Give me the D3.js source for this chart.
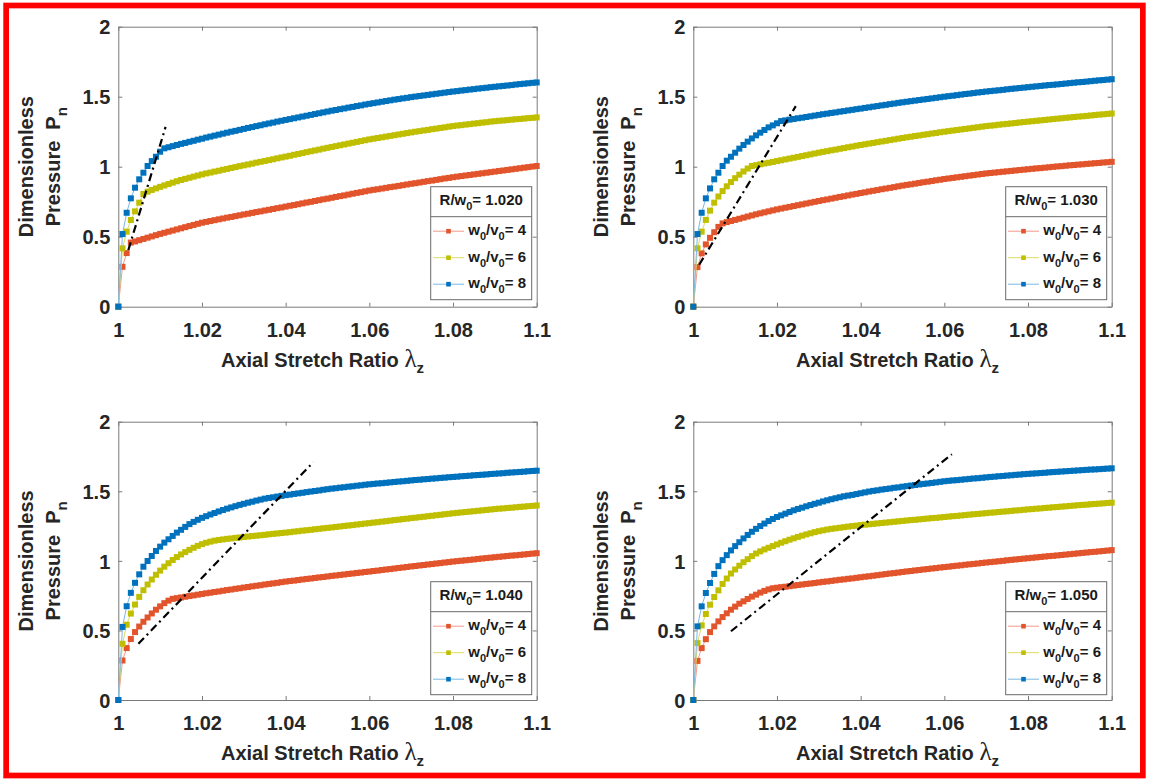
<!DOCTYPE html>
<html>
<head>
<meta charset="utf-8">
<script src="https://cdn.jsdelivr.net/npm/d3@7"></script>
<style>
  html, body { margin: 0; padding: 0; background: #fff; }
  svg { display: block; }
</style>
</head>
<body>
<svg id="fig" width="1149" height="781"></svg>
<script>
// Axial stretch ratio samples (shared by every curve)
const stretch = [
  1.000, 1.001, 1.002, 1.003, 1.004, 1.005, 1.006, 1.007, 1.008, 1.009,
  1.010, 1.011, 1.012, 1.013, 1.014, 1.015, 1.016, 1.017, 1.018, 1.019,
  1.020, 1.021, 1.022, 1.023, 1.024, 1.025, 1.026, 1.027, 1.028, 1.029,
  1.030, 1.031, 1.032, 1.033, 1.034, 1.035, 1.036, 1.037, 1.038, 1.039,
  1.040, 1.041, 1.042, 1.043, 1.044, 1.045, 1.046, 1.047, 1.048, 1.049,
  1.050, 1.051, 1.052, 1.053, 1.054, 1.055, 1.056, 1.057, 1.058, 1.059,
  1.060, 1.061, 1.062, 1.063, 1.064, 1.065, 1.066, 1.067, 1.068, 1.069,
  1.070, 1.071, 1.072, 1.073, 1.074, 1.075, 1.076, 1.077, 1.078, 1.079,
  1.080, 1.081, 1.082, 1.083, 1.084, 1.085, 1.086, 1.087, 1.088, 1.089,
  1.090, 1.091, 1.092, 1.093, 1.094, 1.095, 1.096, 1.097, 1.098, 1.099,
  1.100
];

const xTicks = [1, 1.02, 1.04, 1.06, 1.08, 1.1];
const xTickLabels = ["1", "1.02", "1.04", "1.06", "1.08", "1.1"];
const yTicks = [0, 0.5, 1, 1.5, 2];
const yTickLabels = ["0", "0.5", "1", "1.5", "2"];

const ratioLabels = ["1.020", "1.030", "1.040", "1.050"];   // R/w0
const slenderLabels = ["4", "6", "8"];                       // w0/v0

// Dimensionless pressure, R/w0 = 1.020
const p1020_w4 = [
  0, 0.285, 0.383, 0.458, 0.466, 0.475, 0.484, 0.493, 0.502, 0.511,
  0.520, 0.528, 0.536, 0.544, 0.552, 0.560, 0.568, 0.576, 0.584, 0.592,
  0.600, 0.606, 0.612, 0.618, 0.624, 0.630, 0.636, 0.641, 0.647, 0.653,
  0.659, 0.664, 0.670, 0.676, 0.681, 0.687, 0.692, 0.698, 0.704, 0.709,
  0.715, 0.721, 0.726, 0.732, 0.738, 0.744, 0.749, 0.755, 0.761, 0.767,
  0.772, 0.778, 0.784, 0.790, 0.795, 0.801, 0.807, 0.813, 0.818, 0.824,
  0.830, 0.835, 0.839, 0.844, 0.849, 0.854, 0.858, 0.863, 0.868, 0.873,
  0.878, 0.882, 0.887, 0.892, 0.897, 0.901, 0.906, 0.911, 0.916, 0.920,
  0.925, 0.929, 0.933, 0.937, 0.941, 0.945, 0.949, 0.953, 0.957, 0.961,
  0.965, 0.969, 0.973, 0.977, 0.981, 0.985, 0.989, 0.993, 0.997, 1.001,
  1.005
];
const p1020_w6 = [
  0, 0.417, 0.536, 0.619, 0.681, 0.743, 0.805, 0.822, 0.834, 0.845,
  0.856, 0.866, 0.876, 0.886, 0.896, 0.905, 0.913, 0.921, 0.929, 0.937,
  0.945, 0.952, 0.958, 0.965, 0.971, 0.978, 0.984, 0.991, 0.997, 1.004,
  1.010, 1.016, 1.022, 1.029, 1.035, 1.041, 1.047, 1.053, 1.060, 1.066,
  1.072, 1.078, 1.085, 1.091, 1.097, 1.104, 1.110, 1.116, 1.122, 1.129,
  1.135, 1.141, 1.147, 1.153, 1.159, 1.165, 1.171, 1.177, 1.183, 1.189,
  1.195, 1.200, 1.205, 1.210, 1.215, 1.220, 1.225, 1.230, 1.235, 1.240,
  1.245, 1.250, 1.254, 1.259, 1.263, 1.268, 1.272, 1.277, 1.281, 1.286,
  1.290, 1.294, 1.297, 1.301, 1.304, 1.308, 1.311, 1.315, 1.318, 1.322,
  1.325, 1.328, 1.330, 1.333, 1.336, 1.339, 1.341, 1.344, 1.347, 1.349,
  1.352
];
const p1020_w8 = [
  0, 0.519, 0.671, 0.774, 0.850, 0.910, 0.957, 1.005, 1.040, 1.071,
  1.107, 1.131, 1.139, 1.147, 1.155, 1.163, 1.170, 1.178, 1.185, 1.193,
  1.200, 1.208, 1.215, 1.222, 1.229, 1.236, 1.243, 1.250, 1.256, 1.263,
  1.270, 1.277, 1.283, 1.290, 1.296, 1.303, 1.309, 1.315, 1.322, 1.328,
  1.334, 1.340, 1.346, 1.352, 1.358, 1.364, 1.370, 1.376, 1.382, 1.388,
  1.394, 1.400, 1.405, 1.411, 1.416, 1.422, 1.427, 1.433, 1.438, 1.444,
  1.449, 1.454, 1.459, 1.464, 1.469, 1.474, 1.479, 1.483, 1.488, 1.492,
  1.497, 1.501, 1.505, 1.509, 1.513, 1.517, 1.521, 1.525, 1.529, 1.533,
  1.537, 1.540, 1.544, 1.547, 1.551, 1.554, 1.558, 1.561, 1.564, 1.568,
  1.571, 1.574, 1.577, 1.580, 1.583, 1.587, 1.590, 1.593, 1.596, 1.599,
  1.602
];

// Dimensionless pressure, R/w0 = 1.030
const p1030_w4 = [
  0, 0.283, 0.381, 0.445, 0.492, 0.532, 0.570, 0.595, 0.604, 0.612,
  0.620, 0.628, 0.636, 0.644, 0.652, 0.660, 0.667, 0.674, 0.681, 0.688,
  0.695, 0.701, 0.707, 0.713, 0.719, 0.725, 0.731, 0.737, 0.743, 0.749,
  0.755, 0.761, 0.766, 0.772, 0.778, 0.784, 0.789, 0.795, 0.801, 0.806,
  0.812, 0.817, 0.823, 0.828, 0.833, 0.839, 0.844, 0.849, 0.854, 0.860,
  0.865, 0.870, 0.874, 0.879, 0.884, 0.889, 0.893, 0.898, 0.903, 0.907,
  0.912, 0.916, 0.920, 0.924, 0.928, 0.932, 0.936, 0.940, 0.944, 0.948,
  0.952, 0.955, 0.958, 0.961, 0.964, 0.967, 0.970, 0.973, 0.976, 0.979,
  0.982, 0.985, 0.988, 0.990, 0.993, 0.996, 0.999, 1.002, 1.004, 1.007,
  1.010, 1.012, 1.015, 1.017, 1.020, 1.022, 1.025, 1.027, 1.030, 1.032,
  1.035
];
const p1030_w6 = [
  0, 0.417, 0.536, 0.620, 0.686, 0.743, 0.787, 0.826, 0.860, 0.890,
  0.918, 0.943, 0.966, 0.987, 1.005, 1.011, 1.017, 1.023, 1.028, 1.034,
  1.040, 1.046, 1.052, 1.058, 1.064, 1.070, 1.076, 1.082, 1.088, 1.094,
  1.100, 1.106, 1.111, 1.117, 1.122, 1.128, 1.133, 1.139, 1.144, 1.150,
  1.155, 1.160, 1.165, 1.170, 1.175, 1.180, 1.185, 1.190, 1.195, 1.200,
  1.205, 1.210, 1.214, 1.219, 1.223, 1.228, 1.232, 1.237, 1.241, 1.246,
  1.250, 1.254, 1.258, 1.262, 1.266, 1.270, 1.274, 1.278, 1.282, 1.286,
  1.290, 1.293, 1.296, 1.300, 1.303, 1.306, 1.309, 1.312, 1.316, 1.319,
  1.322, 1.325, 1.328, 1.331, 1.334, 1.337, 1.340, 1.343, 1.346, 1.349,
  1.352, 1.355, 1.358, 1.360, 1.363, 1.366, 1.369, 1.372, 1.374, 1.377,
  1.380
];
const p1030_w8 = [
  0, 0.519, 0.671, 0.774, 0.845, 0.910, 0.957, 1.005, 1.043, 1.071,
  1.100, 1.129, 1.155, 1.179, 1.202, 1.224, 1.243, 1.262, 1.281, 1.295,
  1.310, 1.326, 1.331, 1.336, 1.341, 1.346, 1.350, 1.355, 1.360, 1.365,
  1.370, 1.375, 1.379, 1.384, 1.388, 1.393, 1.397, 1.402, 1.406, 1.411,
  1.415, 1.420, 1.424, 1.429, 1.433, 1.438, 1.442, 1.447, 1.451, 1.456,
  1.460, 1.464, 1.468, 1.472, 1.476, 1.480, 1.484, 1.488, 1.492, 1.496,
  1.500, 1.504, 1.507, 1.511, 1.515, 1.519, 1.522, 1.526, 1.530, 1.533,
  1.537, 1.540, 1.543, 1.546, 1.549, 1.553, 1.556, 1.559, 1.562, 1.565,
  1.568, 1.571, 1.574, 1.577, 1.580, 1.583, 1.585, 1.588, 1.591, 1.594,
  1.597, 1.600, 1.603, 1.605, 1.608, 1.611, 1.614, 1.617, 1.619, 1.622,
  1.625
];

// Dimensionless pressure, R/w0 = 1.040
const p1040_w4 = [
  0, 0.284, 0.373, 0.438, 0.488, 0.528, 0.562, 0.593, 0.622, 0.649,
  0.673, 0.696, 0.714, 0.727, 0.732, 0.737, 0.742, 0.747, 0.752, 0.757,
  0.762, 0.767, 0.771, 0.776, 0.780, 0.785, 0.790, 0.794, 0.799, 0.803,
  0.808, 0.812, 0.817, 0.821, 0.825, 0.830, 0.834, 0.838, 0.842, 0.847,
  0.851, 0.855, 0.858, 0.862, 0.866, 0.870, 0.873, 0.877, 0.881, 0.884,
  0.888, 0.892, 0.895, 0.899, 0.902, 0.906, 0.909, 0.913, 0.916, 0.920,
  0.923, 0.927, 0.930, 0.934, 0.938, 0.941, 0.945, 0.949, 0.952, 0.956,
  0.960, 0.963, 0.967, 0.970, 0.974, 0.977, 0.981, 0.984, 0.988, 0.991,
  0.995, 0.998, 1.001, 1.004, 1.007, 1.010, 1.014, 1.017, 1.020, 1.023,
  1.026, 1.029, 1.032, 1.035, 1.038, 1.040, 1.043, 1.046, 1.049, 1.052,
  1.055
];
const p1040_w6 = [
  0, 0.404, 0.541, 0.621, 0.686, 0.741, 0.789, 0.830, 0.866, 0.900,
  0.930, 0.958, 0.983, 1.006, 1.027, 1.046, 1.063, 1.079, 1.094, 1.108,
  1.120, 1.130, 1.138, 1.145, 1.150, 1.154, 1.158, 1.161, 1.165, 1.168,
  1.172, 1.175, 1.178, 1.181, 1.184, 1.187, 1.191, 1.194, 1.197, 1.200,
  1.203, 1.206, 1.210, 1.213, 1.217, 1.220, 1.223, 1.227, 1.230, 1.234,
  1.237, 1.240, 1.244, 1.247, 1.251, 1.254, 1.257, 1.261, 1.264, 1.268,
  1.271, 1.275, 1.278, 1.282, 1.285, 1.289, 1.293, 1.296, 1.300, 1.303,
  1.307, 1.310, 1.314, 1.317, 1.321, 1.324, 1.328, 1.331, 1.335, 1.338,
  1.342, 1.345, 1.348, 1.351, 1.354, 1.357, 1.360, 1.363, 1.366, 1.369,
  1.372, 1.375, 1.377, 1.380, 1.382, 1.385, 1.388, 1.390, 1.393, 1.395,
  1.398
];
const p1040_w8 = [
  0, 0.525, 0.674, 0.770, 0.842, 0.903, 0.958, 0.999, 1.035, 1.071,
  1.102, 1.131, 1.155, 1.179, 1.203, 1.223, 1.244, 1.264, 1.280, 1.295,
  1.309, 1.321, 1.333, 1.344, 1.355, 1.365, 1.375, 1.384, 1.393, 1.402,
  1.410, 1.418, 1.425, 1.433, 1.440, 1.447, 1.452, 1.457, 1.462, 1.467,
  1.472, 1.476, 1.481, 1.485, 1.489, 1.494, 1.498, 1.502, 1.506, 1.511,
  1.515, 1.519, 1.522, 1.526, 1.529, 1.533, 1.536, 1.540, 1.543, 1.547,
  1.550, 1.553, 1.556, 1.558, 1.561, 1.564, 1.567, 1.570, 1.572, 1.575,
  1.578, 1.581, 1.583, 1.586, 1.588, 1.591, 1.593, 1.596, 1.598, 1.601,
  1.603, 1.605, 1.608, 1.610, 1.612, 1.615, 1.617, 1.619, 1.621, 1.624,
  1.626, 1.628, 1.630, 1.633, 1.635, 1.637, 1.639, 1.641, 1.644, 1.646,
  1.648
];

// Dimensionless pressure, R/w0 = 1.050
const p1050_w4 = [
  0, 0.281, 0.373, 0.437, 0.488, 0.529, 0.565, 0.596, 0.623, 0.649,
  0.671, 0.692, 0.709, 0.726, 0.743, 0.757, 0.772, 0.784, 0.795, 0.803,
  0.807, 0.811, 0.814, 0.818, 0.822, 0.826, 0.830, 0.834, 0.837, 0.841,
  0.845, 0.849, 0.852, 0.856, 0.860, 0.864, 0.867, 0.871, 0.874, 0.878,
  0.882, 0.886, 0.889, 0.893, 0.897, 0.901, 0.905, 0.909, 0.912, 0.916,
  0.920, 0.924, 0.927, 0.931, 0.934, 0.938, 0.941, 0.945, 0.948, 0.952,
  0.955, 0.958, 0.962, 0.965, 0.968, 0.972, 0.975, 0.978, 0.981, 0.985,
  0.988, 0.991, 0.994, 0.997, 1.000, 1.004, 1.007, 1.010, 1.013, 1.016,
  1.019, 1.022, 1.025, 1.028, 1.031, 1.034, 1.036, 1.039, 1.042, 1.045,
  1.048, 1.051, 1.054, 1.057, 1.060, 1.063, 1.065, 1.068, 1.071, 1.074,
  1.077
];
const p1050_w6 = [
  0, 0.409, 0.536, 0.618, 0.685, 0.740, 0.788, 0.834, 0.873, 0.909,
  0.938, 0.965, 0.990, 1.012, 1.034, 1.053, 1.068, 1.082, 1.094, 1.106,
  1.118, 1.130, 1.141, 1.152, 1.162, 1.172, 1.181, 1.190, 1.198, 1.206,
  1.213, 1.219, 1.225, 1.230, 1.234, 1.238, 1.242, 1.246, 1.250, 1.253,
  1.257, 1.260, 1.263, 1.266, 1.269, 1.272, 1.275, 1.278, 1.281, 1.284,
  1.287, 1.290, 1.293, 1.295, 1.298, 1.301, 1.304, 1.307, 1.309, 1.312,
  1.315, 1.318, 1.321, 1.323, 1.326, 1.329, 1.332, 1.335, 1.337, 1.340,
  1.343, 1.346, 1.348, 1.351, 1.354, 1.356, 1.359, 1.362, 1.364, 1.367,
  1.370, 1.372, 1.375, 1.377, 1.380, 1.382, 1.385, 1.387, 1.390, 1.392,
  1.395, 1.397, 1.400, 1.402, 1.404, 1.407, 1.409, 1.411, 1.413, 1.416,
  1.418
];
const p1050_w8 = [
  0, 0.529, 0.673, 0.769, 0.841, 0.906, 0.962, 1.005, 1.041, 1.075,
  1.106, 1.134, 1.161, 1.186, 1.209, 1.230, 1.250, 1.268, 1.286, 1.301,
  1.315, 1.327, 1.339, 1.351, 1.363, 1.373, 1.382, 1.392, 1.401, 1.410,
  1.418, 1.427, 1.435, 1.443, 1.450, 1.457, 1.464, 1.469, 1.474, 1.480,
  1.486, 1.492, 1.498, 1.503, 1.507, 1.512, 1.516, 1.520, 1.525, 1.528,
  1.533, 1.537, 1.541, 1.545, 1.549, 1.553, 1.556, 1.560, 1.564, 1.568,
  1.572, 1.575, 1.578, 1.580, 1.583, 1.586, 1.589, 1.592, 1.594, 1.597,
  1.600, 1.603, 1.605, 1.608, 1.610, 1.613, 1.615, 1.618, 1.620, 1.623,
  1.625, 1.627, 1.629, 1.631, 1.633, 1.636, 1.638, 1.640, 1.642, 1.644,
  1.646, 1.648, 1.650, 1.652, 1.654, 1.656, 1.657, 1.659, 1.661, 1.663,
  1.665
];

// Dash-dot guide through the transition points (end points: stretch, pressure)
const guide1020X = [1.0024, 1.0113], guide1020Y = [0.405, 1.284];
const guide1030X = [1.0014, 1.0245], guide1030Y = [0.300, 1.433];
const guide1040X = [1.0048, 1.0466], guide1040Y = [0.404, 1.709];
const guide1050X = [1.0090, 1.0618], guide1050Y = [0.494, 1.766];

// ---------------------------------------------------------------------------
const panels = [
  { ratio: ratioLabels[0], series: [p1020_w4, p1020_w6, p1020_w8], gx: guide1020X, gy: guide1020Y },
  { ratio: ratioLabels[1], series: [p1030_w4, p1030_w6, p1030_w8], gx: guide1030X, gy: guide1030Y },
  { ratio: ratioLabels[2], series: [p1040_w4, p1040_w6, p1040_w8], gx: guide1040X, gy: guide1040Y },
  { ratio: ratioLabels[3], series: [p1050_w4, p1050_w6, p1050_w8], gx: guide1050X, gy: guide1050Y }
];

const markerColors = ["#e2542c", "#bfbf00", "#0072bd"];
const lineColors   = ["#f2998a", "#dcdc62", "#7ab8e6"];

const colLeft = [118.3, 693.3];
const rowTop = [26.7, 421.7];
const rowBottom = [306.7, 700];
const plotW = 418.4;

const SANS = "'Liberation Sans', Arial, Helvetica, sans-serif";
const TEXT = "#262626";
const AXIS = "#7a7a7a";

const svg = d3.select("#fig");
svg.append("rect").attr("x", 0).attr("y", 0).attr("width", 1149).attr("height", 781).attr("fill", "#fff");

panels.forEach((p, k) => {
  const L = colLeft[k % 2];
  const T = rowTop[Math.floor(k / 2)];
  const B = rowBottom[Math.floor(k / 2)];
  const R = L + plotW;

  const x = d3.scaleLinear().domain([1, 1.1]).range([L, R]);
  const y = d3.scaleLinear().domain([0, 2]).range([B, T]);

  const g = svg.append("g");

  // axes box with inward ticks
  const styleAxis = sel => {
    sel.select(".domain").attr("stroke", AXIS).attr("stroke-width", 1);
    sel.selectAll(".tick line").attr("stroke", AXIS).attr("stroke-width", 1);
  };

  const bottom = g.append("g").attr("transform", `translate(0,${B})`)
    .call(d3.axisBottom(x).tickValues(xTicks).tickFormat((d, i) => xTickLabels[i])
      .tickSizeInner(-4).tickSizeOuter(0));
  styleAxis(bottom);
  bottom.selectAll(".tick text")
    .attr("y", 30).attr("dy", null)
    .attr("font-family", SANS).attr("font-weight", "bold").attr("font-size", 20)
    .attr("fill", TEXT);

  const top = g.append("g").attr("transform", `translate(0,${T})`)
    .call(d3.axisTop(x).tickValues(xTicks).tickFormat(() => "").tickSizeInner(-4).tickSizeOuter(0));
  styleAxis(top);

  const left = g.append("g").attr("transform", `translate(${L},0)`)
    .call(d3.axisLeft(y).tickValues(yTicks).tickFormat((d, i) => yTickLabels[i])
      .tickSizeInner(-4).tickSizeOuter(0));
  styleAxis(left);
  left.selectAll(".tick text")
    .attr("x", -8).attr("dy", "0.36em")
    .attr("font-family", SANS).attr("font-weight", "bold").attr("font-size", 20)
    .attr("fill", TEXT);

  const right = g.append("g").attr("transform", `translate(${R},0)`)
    .call(d3.axisRight(y).tickValues(yTicks).tickFormat(() => "").tickSizeInner(-4).tickSizeOuter(0));
  styleAxis(right);

  // curves: thin light connecting line plus square markers
  const line = d3.line().x((d, i) => x(stretch[i])).y(d => y(d));
  const ms = 6;
  p.series.forEach((vals, s) => {
    g.append("path").datum(vals)
      .attr("d", line)
      .attr("fill", "none")
      .attr("stroke", lineColors[s])
      .attr("stroke-width", 1);
    g.append("g").selectAll("rect").data(vals).join("rect")
      .attr("x", (d, i) => x(stretch[i]) - ms / 2)
      .attr("y", d => y(d) - ms / 2)
      .attr("width", ms).attr("height", ms)
      .attr("fill", markerColors[s]);
  });

  // dash-dot transition guide
  const guide = d3.line().x((d, i) => x(p.gx[i])).y(d => y(d));
  g.append("path").datum(p.gy)
    .attr("d", guide)
    .attr("fill", "none")
    .attr("stroke", "#000")
    .attr("stroke-width", 2.2)
    .attr("stroke-dasharray", "8,4,2,4");

  // legend
  const lg = g.append("g").attr("transform", `translate(${L + 312.4},${T + 160})`);
  lg.append("rect").attr("x", 0).attr("y", 0).attr("width", 101).attr("height", 113)
    .attr("fill", "#fff").attr("stroke", "#6a6a6a").attr("stroke-width", 1);
  lg.append("line").attr("x1", 0).attr("x2", 101).attr("y1", 30).attr("y2", 30)
    .attr("stroke", "#6a6a6a").attr("stroke-width", 1);

  const title = lg.append("text")
    .attr("x", 50.5).attr("y", 18.5)
    .attr("text-anchor", "middle")
    .attr("font-family", SANS).attr("font-weight", "bold").attr("font-size", 15)
    .attr("fill", "#1a1a1a");
  title.append("tspan").text("R/w");
  title.append("tspan").attr("font-size", 11).attr("dy", 5).text("0");
  title.append("tspan").attr("dy", -5).text("= " + p.ratio);

  const rowsY = [44.5, 71, 97.5];
  slenderLabels.forEach((lab, s) => {
    const ry = rowsY[s];
    lg.append("line").attr("x1", 2.3).attr("x2", 33.3).attr("y1", ry).attr("y2", ry)
      .attr("stroke", lineColors[s]).attr("stroke-width", 1);
    lg.append("rect").attr("x", 17.8 - 2.3).attr("y", ry - 2.3).attr("width", 4.6).attr("height", 4.6)
      .attr("fill", markerColors[s]);
    const t = lg.append("text")
      .attr("x", 37.6).attr("y", ry + 4)
      .attr("font-family", SANS).attr("font-weight", "bold").attr("font-size", 15)
      .attr("fill", "#1a1a1a");
    t.append("tspan").text("w");
    t.append("tspan").attr("font-size", 11).attr("dy", 5).text("0");
    t.append("tspan").attr("dy", -5).text("/v");
    t.append("tspan").attr("font-size", 11).attr("dy", 5).text("0");
    t.append("tspan").attr("dy", -5).text("= " + lab);
  });

  // x-axis title
  const cx = (L + R) / 2 - 5;
  const xt = g.append("text")
    .attr("x", cx).attr("y", B + 60.3)
    .attr("text-anchor", "middle")
    .attr("font-family", SANS).attr("font-weight", "bold").attr("font-size", 20)
    .attr("fill", TEXT);
  xt.append("tspan").text("Axial Stretch Ratio ");
  xt.append("tspan")
    .attr("font-family", "'Liberation Serif', 'Times New Roman', serif")
    .attr("font-weight", "normal").attr("font-size", 25).text("λ");
  xt.append("tspan").attr("font-size", 15).attr("dy", 6).text("z");

  // y-axis title (two lines, rotated)
  const cy = (T + B) / 2;
  const yt = g.append("g").attr("transform", `translate(${L - 118.3},${cy}) rotate(-90)`);
  yt.append("text")
    .attr("x", 0).attr("y", 33.3)
    .attr("text-anchor", "middle")
    .attr("font-family", SANS).attr("font-weight", "bold").attr("font-size", 20)
    .attr("fill", TEXT)
    .text("Dimensionless");
  const yt2 = yt.append("text")
    .attr("x", 0).attr("y", 60)
    .attr("text-anchor", "middle")
    .attr("font-family", SANS).attr("font-weight", "bold").attr("font-size", 20)
    .attr("fill", TEXT);
  yt2.append("tspan").text("Pressure");
  yt2.append("tspan").attr("dx", 11).text("P");
  yt2.append("tspan").attr("font-size", 15).attr("dy", 7).text("n");
});

// frame around the figure
svg.append("rect")
  .attr("x", 6.15).attr("y", 5.5)
  .attr("width", 1136.7).attr("height", 770)
  .attr("fill", "none")
  .attr("stroke", "#ff0000")
  .attr("stroke-width", 5.7);
</script>
</body>
</html>
